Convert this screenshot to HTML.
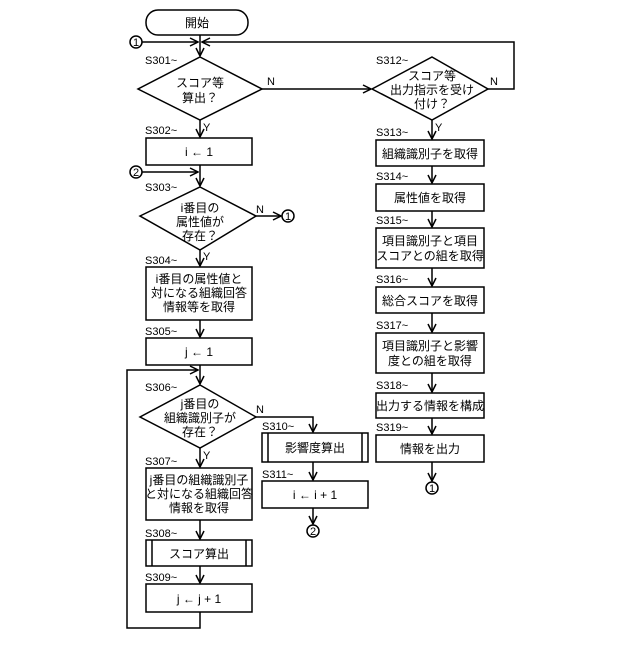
<!DOCTYPE html>
<html><head><meta charset="utf-8"><style>body{margin:0;background:#fff}</style></head><body>
<svg width="640" height="640" viewBox="0 0 640 640" xmlns="http://www.w3.org/2000/svg" font-family="'Liberation Sans','Noto Sans CJK JP',sans-serif">
<defs><marker id="a" markerWidth="10" markerHeight="10" refX="9" refY="5" orient="auto" markerUnits="userSpaceOnUse"><path d="M1,1 L9,5 L1,9" fill="none" stroke="#000" stroke-width="1.5"/></marker></defs>
<g fill="none" stroke="#000" stroke-width="1.5">
<rect x="146" y="10" width="102" height="25" rx="12"/>
<line x1="200" y1="35" x2="200" y2="56" marker-end="url(#a)"/>
<circle cx="136" cy="42" r="6"/>
<line x1="142" y1="42" x2="198" y2="42" marker-end="url(#a)"/>
<polyline points="488,89 514,89 514,42 202,42" marker-end="url(#a)"/>
<polygon points="200,57 262,89 200,120 138,89"/>
<line x1="262" y1="89" x2="371" y2="89" marker-end="url(#a)"/>
<polygon points="432,57 488,89 432,120 372,89"/>
<line x1="200" y1="120" x2="200" y2="137" marker-end="url(#a)"/>
<rect x="146" y="138" width="106" height="27"/>
<line x1="200" y1="165" x2="200" y2="186" marker-end="url(#a)"/>
<circle cx="136" cy="172" r="6"/>
<line x1="142" y1="172" x2="198" y2="172" marker-end="url(#a)"/>
<polygon points="200,187 256,216 200,250 140,216"/>
<line x1="256" y1="216" x2="281" y2="216" marker-end="url(#a)"/>
<circle cx="288" cy="216" r="6"/>
<line x1="200" y1="250" x2="200" y2="266" marker-end="url(#a)"/>
<rect x="146" y="267" width="106" height="53"/>
<line x1="200" y1="320" x2="200" y2="337" marker-end="url(#a)"/>
<rect x="146" y="338" width="106" height="27"/>
<line x1="200" y1="365" x2="200" y2="384" marker-end="url(#a)"/>
<polyline points="200,612 200,628 127,628 127,370 198,370" marker-end="url(#a)"/>
<polygon points="200,385 256,417 200,448 140,417"/>
<polyline points="256,417 313,417 313,432" marker-end="url(#a)"/>
<rect x="262" y="433" width="106" height="29"/>
<line x1="268" y1="433" x2="268" y2="462"/><line x1="362" y1="433" x2="362" y2="462"/>
<line x1="313" y1="462" x2="313" y2="480" marker-end="url(#a)"/>
<rect x="262" y="481" width="106" height="27"/>
<line x1="313" y1="508" x2="313" y2="524" marker-end="url(#a)"/>
<circle cx="313" cy="531" r="6"/>
<line x1="200" y1="448" x2="200" y2="467" marker-end="url(#a)"/>
<rect x="146" y="468" width="106" height="52"/>
<line x1="200" y1="520" x2="200" y2="539" marker-end="url(#a)"/>
<rect x="146" y="540" width="106" height="26"/>
<line x1="152" y1="540" x2="152" y2="566"/><line x1="246" y1="540" x2="246" y2="566"/>
<line x1="200" y1="566" x2="200" y2="583" marker-end="url(#a)"/>
<rect x="146" y="584" width="106" height="28"/>
<line x1="432" y1="120" x2="432" y2="139" marker-end="url(#a)"/>
<rect x="376" y="140" width="108" height="26"/>
<line x1="432" y1="166" x2="432" y2="183" marker-end="url(#a)"/>
<rect x="376" y="184" width="108" height="27"/>
<line x1="432" y1="211" x2="432" y2="227" marker-end="url(#a)"/>
<rect x="376" y="228" width="108" height="40"/>
<line x1="432" y1="268" x2="432" y2="286" marker-end="url(#a)"/>
<rect x="376" y="287" width="108" height="26"/>
<line x1="432" y1="313" x2="432" y2="332" marker-end="url(#a)"/>
<rect x="376" y="333" width="108" height="40"/>
<line x1="432" y1="373" x2="432" y2="392" marker-end="url(#a)"/>
<rect x="376" y="393" width="108" height="25"/>
<line x1="432" y1="418" x2="432" y2="434" marker-end="url(#a)"/>
<rect x="376" y="435" width="108" height="27"/>
<line x1="432" y1="462" x2="432" y2="481" marker-end="url(#a)"/>
<circle cx="432" cy="488" r="6"/>
</g>
<g font-size="12" text-anchor="middle" fill="#000">
<text x="136" y="46" font-size="11">1</text><text x="136" y="176" font-size="11">2</text>
<text x="288" y="220" font-size="11">1</text><text x="313" y="535" font-size="11">2</text><text x="432" y="492" font-size="11">1</text>
<text x="197" y="27">開始</text>
<text x="200" y="87">スコア等</text><text x="200" y="102">算出？</text>
<text x="432" y="80">スコア等</text><text x="432" y="94">出力指示を受け</text><text x="432" y="108">付け？</text>
<text x="199" y="156">i ← 1</text>
<text x="200" y="212">i番目の</text><text x="200" y="226">属性値が</text><text x="200" y="240">存在？</text>
<text x="199" y="283">i番目の属性値と</text><text x="199" y="297">対になる組織回答</text><text x="199" y="311">情報等を取得</text>
<text x="199" y="356">j ← 1</text>
<text x="200" y="408">j番目の</text><text x="200" y="422">組織識別子が</text><text x="200" y="436">存在？</text>
<text x="199" y="484">j番目の組織識別子</text><text x="199" y="498">と対になる組織回答</text><text x="199" y="512">情報を取得</text>
<text x="199" y="558">スコア算出</text>
<text x="199" y="603">j ← j + 1</text>
<text x="315" y="452">影響度算出</text>
<text x="315" y="499">i ← i + 1</text>
<text x="430" y="158">組織識別子を取得</text>
<text x="430" y="202">属性値を取得</text>
<text x="430" y="245">項目識別子と項目</text><text x="430" y="260">スコアとの組を取得</text>
<text x="430" y="305">総合スコアを取得</text>
<text x="430" y="350">項目識別子と影響</text><text x="430" y="365">度との組を取得</text>
<text x="430" y="410">出力する情報を構成</text>
<text x="430" y="453">情報を出力</text>
</g>
<g font-size="11" fill="#000">
<text x="267" y="85">N</text><text x="203" y="131">Y</text>
<text x="490" y="85">N</text><text x="435" y="131">Y</text>
<text x="256" y="213">N</text><text x="203" y="260">Y</text>
<text x="256" y="413">N</text><text x="203" y="459">Y</text>
<text x="145" y="64">S301~</text><text x="145" y="134">S302~</text><text x="145" y="191">S303~</text>
<text x="145" y="264">S304~</text><text x="145" y="335">S305~</text><text x="145" y="391">S306~</text>
<text x="145" y="465">S307~</text><text x="145" y="537">S308~</text><text x="145" y="581">S309~</text>
<text x="262" y="430">S310~</text><text x="262" y="478">S311~</text>
<text x="376" y="64">S312~</text><text x="376" y="136">S313~</text><text x="376" y="180">S314~</text>
<text x="376" y="224">S315~</text><text x="376" y="283">S316~</text><text x="376" y="329">S317~</text>
<text x="376" y="389">S318~</text><text x="376" y="431">S319~</text>
</g>
</svg>
</body></html>
